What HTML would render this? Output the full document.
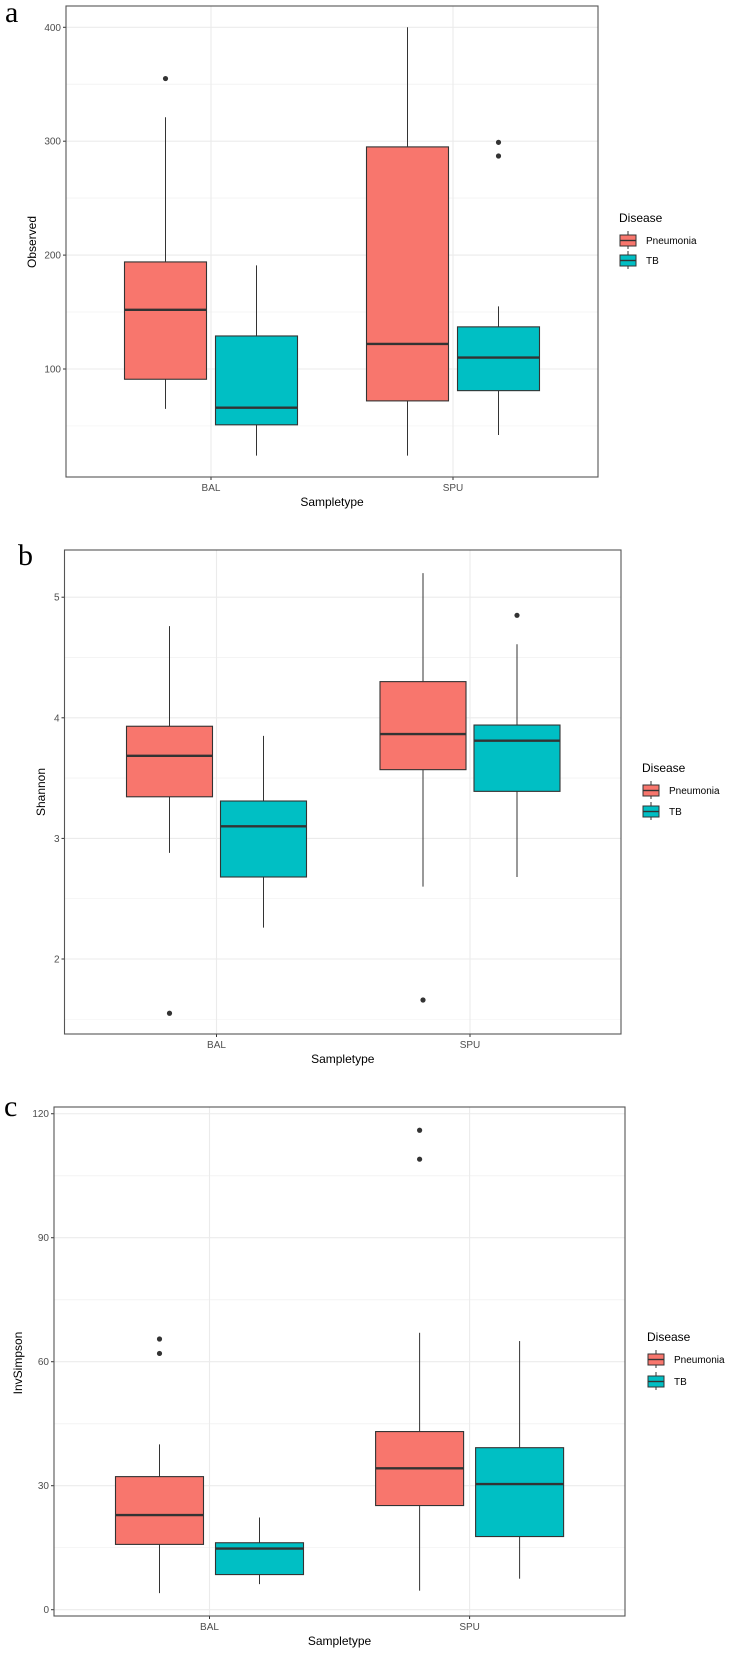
<!DOCTYPE html>
<html><head><meta charset="utf-8"><style>
html,body{margin:0;padding:0;background:#fff;}
svg{display:block;font-family:"Liberation Sans",sans-serif;}
</style></head><body>
<svg id="fig" width="734" height="1653" viewBox="0 0 734 1653" xmlns="http://www.w3.org/2000/svg"></svg>
<script>
// ---- data ----
const categories = ["BAL", "SPU"];
const groups = ["Pneumonia", "TB"];
// each stat: [low whisker, Q1, median, Q3, high whisker]
const observedPneumonia = [[65, 91, 152, 194, 321], [24, 72, 122, 295, 400]];
const observedTB = [[24, 51, 66, 129, 191], [42, 81, 110, 137, 155]];
const observedOutliersPneumonia = [[355], []];
const observedOutliersTB = [[], [299, 287]];
const observedTicks = [100, 200, 300, 400];

const shannonPneumonia = [[2.88, 3.345, 3.685, 3.93, 4.76], [2.6, 3.57, 3.865, 4.30, 5.2]];
const shannonTB = [[2.26, 2.68, 3.10, 3.31, 3.85], [2.68, 3.39, 3.81, 3.94, 4.61]];
const shannonOutliersPneumonia = [[1.55], [1.66]];
const shannonOutliersTB = [[], [4.85]];
const shannonTicks = [2, 3, 4, 5];

const invSimpsonPneumonia = [[4, 15.8, 22.9, 32.2, 40], [4.6, 25.2, 34.2, 43.1, 67]];
const invSimpsonTB = [[6.2, 8.5, 14.8, 16.2, 22.3], [7.5, 17.7, 30.4, 39.2, 65]];
const invSimpsonOutliersPneumonia = [[65.5, 62], [116, 109]];
const invSimpsonOutliersTB = [[], []];
const invSimpsonTicks = [0, 30, 60, 90, 120];

const NS = "http://www.w3.org/2000/svg";
const svg = document.getElementById("fig");
function mk(tag, attrs, parent, text) {
  const e = document.createElementNS(NS, tag);
  for (const k in attrs) e.setAttribute(k, attrs[k]);
  if (text !== undefined) e.textContent = text;
  (parent || svg).appendChild(e);
  return e;
}
const colors = ["#F8766D", "#00BFC4"];

function drawPanel(cfg) {
  const g = mk("g", {});
  
  
  const y = v => cfg.y0px - (v - cfg.v0) * cfg.pxPerUnit;
  const x = i => cfg.cat[i];
  for (let i = 0; i < cfg.ticks.length; i++) {
    const m = cfg.ticks[i] + cfg.minorStep;
    const m2 = cfg.ticks[i] - cfg.minorStep;
    [m, m2].forEach(v => {
      const yy = y(v);
      if (yy > cfg.top && yy < cfg.bottom) mk("line", {x1: cfg.left, x2: cfg.right, y1: yy, y2: yy, stroke: "#f3f3f3", "stroke-width": 0.7}, g);
    });
  }
  cfg.ticks.forEach(v => {
    const yy = y(v);
    const gl = mk("line", {x1: cfg.left, x2: cfg.right, y1: yy, y2: yy, stroke: "#ebebeb", "stroke-width": 1.1}, g);
    
    
    mk("line", {x1: cfg.left - 3, x2: cfg.left, y1: yy, y2: yy, stroke: "#333", "stroke-width": 1}, g);
    const t = mk("text", {x: cfg.left - 5, y: yy + 3.5, "font-size": 10, fill: "#4d4d4d", "text-anchor": "end"}, g, String(v));
    
    
  });
  categories.forEach((c, i) => {
    mk("line", {x1: x(i), x2: x(i), y1: cfg.top, y2: cfg.bottom, stroke: "#ebebeb", "stroke-width": 1.1}, g);
    mk("line", {x1: x(i), x2: x(i), y1: cfg.bottom, y2: cfg.bottom + 3, stroke: "#333", "stroke-width": 1}, g);
    const t = mk("text", {x: x(i), y: cfg.bottom + 14, "font-size": 10, fill: "#4d4d4d", "text-anchor": "middle"}, g, c);
    
    
  });
  [cfg.pneu, cfg.tb].forEach((series, s) => {
    const outl = s === 0 ? cfg.outP : cfg.outT;
    series.forEach((st, i) => {
      const cx = x(i) + (s === 0 ? -1 : 1) * cfg.dodge;
      const bg = mk("g", {}, g);
      
      
      mk("line", {x1: cx, x2: cx, y1: y(st[4]), y2: y(st[3]), stroke: "#333", "stroke-width": 1}, bg);
      mk("line", {x1: cx, x2: cx, y1: y(st[1]), y2: y(st[0]), stroke: "#333", "stroke-width": 1}, bg);
      mk("rect", {x: cx - cfg.bw / 2, y: y(st[3]), width: cfg.bw, height: y(st[1]) - y(st[3]), fill: colors[s], stroke: "#333", "stroke-width": 1.1}, bg);
      mk("line", {x1: cx - cfg.bw / 2, x2: cx + cfg.bw / 2, y1: y(st[2]), y2: y(st[2]), stroke: "#333", "stroke-width": 2.4}, bg);
      outl[i].forEach(v => {
        const p = mk("circle", {cx: cx, cy: y(v), r: 2.6, fill: "#333"}, bg);
        
        
      });
    });
  });
  const fr = mk("rect", {x: cfg.left, y: cfg.top, width: cfg.right - cfg.left, height: cfg.bottom - cfg.top, fill: "none", stroke: "#555", "stroke-width": 1.1}, g);
  
  
  const xt = mk("text", {x: (cfg.left + cfg.right) / 2, y: cfg.bottom + 29, "font-size": 12, fill: "#000", "text-anchor": "middle"}, g, "Sampletype");
  
  
  const yt = mk("text", {x: 0, y: 0, "font-size": 12, fill: "#000", "text-anchor": "middle", transform: "translate(" + cfg.ytX + "," + cfg.ytY + ") rotate(-90)"}, g, cfg.ytitle);
  
  
  const pl = mk("text", {x: cfg.letterX, y: cfg.letterY, "font-size": 30, fill: "#000", "font-family": "Liberation Serif, serif"}, g, cfg.letter);
  
  
  const lg = mk("g", {}, g);
  
  
  mk("text", {x: cfg.legX, y: cfg.legY, "font-size": 12, fill: "#000"}, lg, "Disease");
  groups.forEach((gr, s) => {
    const ky = cfg.legY + 12 + s * cfg.legGap;
    const kx = cfg.legX + 1;
    const e = mk("g", {}, lg);
    
    
    mk("line", {x1: kx + 8, x2: kx + 8, y1: ky - 3, y2: ky + 15, stroke: "#333", "stroke-width": 1}, e);
    mk("rect", {x: kx, y: ky + 1, width: 16, height: 11, fill: colors[s], stroke: "#333", "stroke-width": 1}, e);
    mk("line", {x1: kx, x2: kx + 16, y1: ky + 6.5, y2: ky + 6.5, stroke: "#333", "stroke-width": 1.4}, e);
    mk("text", {x: kx + 26, y: ky + 10, "font-size": 10, fill: "#000"}, e, gr);
  });
}

drawPanel({name: "observed", letter: "a", letterX: 5, letterY: 22, ytitle: "Observed", ytX: 36, ytY: 242,
  left: 66, right: 598, top: 6, bottom: 477, y0px: 369, v0: 100, pxPerUnit: 1.139, minorStep: 50,
  ticks: observedTicks, cat: [211, 453], dodge: 45.5, bw: 82,
  pneu: observedPneumonia, tb: observedTB, outP: observedOutliersPneumonia, outT: observedOutliersTB,
  legX: 619, legY: 222, legGap: 20});
drawPanel({name: "shannon", letter: "b", letterX: 18, letterY: 565, ytitle: "Shannon", ytX: 45, ytY: 792,
  left: 64.5, right: 621, top: 550, bottom: 1034, y0px: 959, v0: 2, pxPerUnit: 120.6, minorStep: 0.5,
  ticks: shannonTicks, cat: [216.5, 470], dodge: 47, bw: 86,
  pneu: shannonPneumonia, tb: shannonTB, outP: shannonOutliersPneumonia, outT: shannonOutliersTB,
  legX: 642, legY: 772, legGap: 21});
drawPanel({name: "invsimpson", letter: "c", letterX: 4, letterY: 1116, ytitle: "InvSimpson", ytX: 22, ytY: 1363,
  left: 54, right: 625, top: 1107, bottom: 1616, y0px: 1609.7, v0: 0, pxPerUnit: 4.133, minorStep: 15,
  ticks: invSimpsonTicks, cat: [209.5, 469.6], dodge: 50, bw: 88,
  pneu: invSimpsonPneumonia, tb: invSimpsonTB, outP: invSimpsonOutliersPneumonia, outT: invSimpsonOutliersTB,
  legX: 647, legY: 1341, legGap: 22});
</script>
</body></html>
